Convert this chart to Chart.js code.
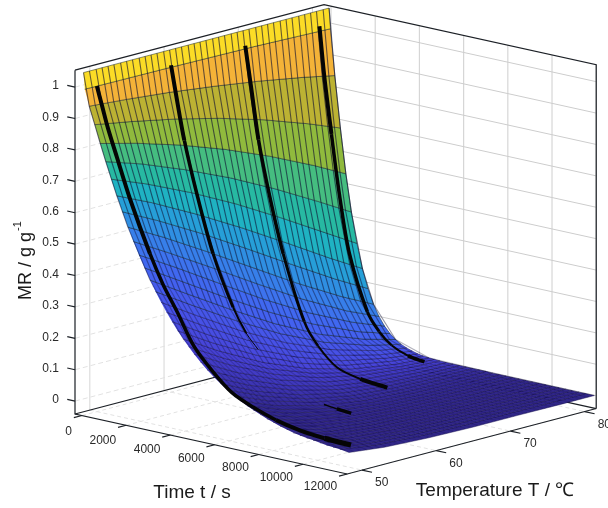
<!DOCTYPE html>
<html>
<head>
<meta charset="utf-8">
<title>MR surface</title>
<script src="https://cdn.jsdelivr.net/npm/chart.js@4"></script>
<style>
html, body { margin: 0; padding: 0; background: #fff; }
canvas { display: block; }
</style>
</head>
<body>
<canvas id="mycanvas" width="608" height="508"></canvas>
<script>
// axis ticks
var timeTicks = [0, 2000, 4000, 6000, 8000, 10000, 12000];
var tempTicks = [50, 60, 70, 80];
var mrTicks = [0, 0.1, 0.2, 0.3, 0.4, 0.5, 0.6, 0.7, 0.8, 0.9, 1];

// surface rows: MR at each time (rows) and temperature (columns)
var surfTemps = [48.2, 53, 59, 65, 71, 77, 81.3];
var rowTimes = [0, 60, 260, 510, 760, 1010, 1260, 1510, 1760, 2010, 2260, 2510, 2760, 3010, 3260, 3510, 3760, 4010, 4260, 4510, 4760, 5010, 5300, 5600, 5900, 6200, 6500, 6800, 7100, 7400, 7700, 8000, 8300, 8600, 8900, 9200, 9500, 9800, 10100, 10400, 10700, 11000, 11300, 11600, 12000];
var surfMR = [
	[1.05, 1.05, 1.05, 1.05, 1.05, 1.05, 1.05],
	[.998, .997, .996, .994, .992, .988, .985],
	[.947, .938, .924, .906, .885, .860, .839],
	[.892, .872, .843, .808, .766, .716, .676],
	[.836, .807, .764, .713, .654, .587, .534],
	[.782, .745, .689, .626, .554, .475, .416],
	[.730, .685, .620, .547, .466, .381, .320],
	[.681, .629, .555, .475, .390, .303, .244],
	[.634, .576, .497, .412, .325, .240, .184],
	[.589, .527, .443, .356, .269, .189, .138],
	[.547, .481, .395, .307, .222, .147, .103],
	[.508, .440, .351, .263, .183, .115, .076],
	[.471, .400, .311, .226, .150, .089, .056],
	[.436, .364, .276, .193, .122, .069, .041],
	[.403, .331, .244, .165, .100, .053, .030],
	[.373, .301, .215, .140, .081, .040, .022],
	[.345, .274, .190, .120, .066, .031, .016],
	[.319, .248, .167, .102, .053, .024, .011],
	[.294, .225, .148, .086, .043, .018, .008],
	[.272, .204, .130, .073, .035, .013, .006],
	[.251, .184, .114, .062, .028, .010, .005],
	[.231, .167, .100, .052, .023, .008, .004],
	[.210, .148, .086, .043, .018, .006, .003],
	[.190, .131, .073, .035, .013, .005, .003],
	[.172, .116, .063, .028, .010, .004, .003],
	[.156, .102, .053, .023, .008, .004, .003],
	[.141, .091, .045, .018, .007, .004, .003],
	[.127, .080, .039, .015, .006, .004, .003],
	[.115, .070, .033, .012, .005, .003, .003],
	[.104, .062, .028, .010, .005, .003, .002],
	[.094, .055, .024, .009, .004, .003, .002],
	[.085, .048, .020, .008, .004, .003, .002],
	[.076, .042, .017, .007, .004, .003, .002],
	[.069, .037, .015, .006, .004, .003, .002],
	[.062, .033, .013, .006, .003, .002, .002],
	[.056, .029, .011, .005, .003, .002, .002],
	[.050, .025, .010, .005, .003, .002, .002],
	[.046, .023, .009, .005, .003, .002, .002],
	[.043, .021, .008, .004, .003, .002, .002],
	[.040, .019, .008, .004, .003, .002, .002],
	[.037, .017, .007, .004, .003, .002, .002],
	[.034, .016, .007, .004, .003, .002, .002],
	[.032, .015, .006, .003, .003, .002, .002],
	[.030, .014, .006, .003, .003, .002, .002],
	[.026, .013, .006, .003, .003, .002, .002]
];
var rowColors = ['#fbdc26', '#f4b338', '#bcb233', '#90ba3d', '#45bd80', '#27b9a2', '#1fb2c2', '#269fd8', '#2f8fe2', '#377fea', '#3d73ee', '#4068f0', '#4361ef', '#455bec', '#4656e9', '#4751e6', '#474de2', '#4749de', '#4745d9', '#4641d3', '#443ecc', '#423bc5', '#3f38bd', '#3d35b5', '#3b32ad', '#3930a6', '#372ea0', '#362c9b', '#352b97', '#342a94', '#332992', '#332990', '#33288f', '#33288e', '#32288d', '#32288c', '#32278b', '#32278b', '#32278a', '#32278a', '#31278a', '#31278a', '#31278a', '#31278a'];

// mesh lines running down the surface
var meshTemps = [48.2, 49, 49.9, 50.7, 51.5, 52.3, 53.2, 54, 54.8, 55.7, 56.5, 57.3, 58.1, 59, 59.8, 60.6, 61.4, 62.3, 63.1, 63.9, 64.7, 65.6, 66.4, 67.2, 68.1, 68.9, 69.7, 70.5, 71.4, 72.2, 73, 73.8, 74.7, 75.5, 76.3, 77.2, 78, 78.8, 79.6, 80.5, 81.3];
var meshTimes = [0, 260, 510, 760, 1010, 1510, 2010, 3010, 4510, 7100, 12000];
var meshMR = [
	[1.05, 1.05, 1.05, 1.05, 1.05, 1.05, 1.05, 1.05, 1.05, 1.05, 1.05, 1.05, 1.05, 1.05, 1.05, 1.05, 1.05, 1.05, 1.05, 1.05, 1.05, 1.05, 1.05, 1.05, 1.05, 1.05, 1.05, 1.05, 1.05, 1.05, 1.05, 1.05, 1.05, 1.05, 1.05, 1.05, 1.05, 1.05, 1.05, 1.05, 1.05],
	[.947, .946, .944, .943, .941, .939, .938, .936, .934, .932, .930, .928, .926, .924, .922, .919, .917, .915, .912, .910, .907, .904, .902, .899, .896, .893, .890, .887, .884, .880, .877, .874, .870, .866, .863, .859, .855, .851, .847, .842, .838],
	[.892, .889, .885, .882, .879, .875, .871, .868, .864, .860, .856, .852, .847, .843, .839, .834, .829, .824, .820, .814, .809, .804, .799, .793, .787, .781, .775, .769, .763, .757, .750, .743, .736, .730, .722, .715, .708, .700, .692, .684, .676],
	[.836, .832, .827, .822, .817, .811, .806, .800, .795, .789, .783, .777, .771, .764, .758, .751, .744, .737, .730, .723, .715, .708, .700, .692, .684, .676, .667, .659, .650, .641, .632, .623, .614, .604, .595, .585, .575, .565, .555, .544, .534],
	[.782, .776, .770, .763, .757, .750, .743, .736, .729, .721, .714, .706, .698, .690, .682, .673, .665, .656, .647, .638, .629, .619, .610, .600, .590, .580, .570, .560, .549, .539, .528, .517, .506, .495, .484, .473, .462, .450, .439, .427, .415],
	[.681, .672, .663, .654, .645, .636, .627, .617, .607, .597, .587, .577, .566, .556, .545, .534, .523, .512, .501, .490, .478, .467, .455, .443, .432, .420, .408, .396, .384, .372, .360, .348, .336, .324, .312, .300, .289, .277, .266, .254, .243],
	[.589, .579, .568, .558, .547, .536, .525, .513, .502, .491, .479, .467, .455, .444, .432, .420, .408, .396, .383, .371, .359, .347, .335, .323, .311, .299, .287, .275, .263, .252, .240, .229, .218, .207, .197, .186, .176, .166, .156, .147, .138],
	[.436, .424, .412, .399, .387, .374, .362, .350, .337, .325, .313, .300, .288, .276, .264, .252, .241, .229, .218, .207, .196, .185, .175, .165, .155, .145, .136, .127, .118, .110, .102, .094, .087, .080, .073, .067, .061, .056, .050, .045, .041],
	[.272, .259, .248, .236, .224, .213, .202, .191, .180, .169, .159, .149, .140, .130, .121, .113, .105, .097, .089, .082, .075, .069, .062, .057, .051, .046, .041, .037, .033, .029, .026, .023, .020, .017, .015, .013, .011, .010, .008, .007, .006],
	[.115, .107, .098, .091, .083, .076, .069, .063, .057, .052, .046, .042, .037, .033, .029, .026, .023, .020, .017, .015, .013, .011, .010, .009, .008, .007, .006, .005, .005, .004, .004, .003, .003, .003, .003, .003, .003, .003, .003, .003, .003],
	[.026, .023, .021, .019, .018, .016, .015, .014, .013, .012, .011, .010, .009, .009, .008, .007, .006, .006, .006, .005, .005, .005, .004, .004, .004, .004, .003, .003, .003, .003, .003, .003, .002, .002, .002, .002, .002, .002, .002, .002, .002]
];
// mesh line strength between the mesh times
var meshShade = [0.62, 0.62, 0.62, 0.62, 0.6, 0.55, 0.45, 0.32, 0.22, 0.16];

// measured curves (black), each temperature has its own time points
var curves = [
	{ temp: 50, times: [0, 250, 500, 905, 1500, 2400, 3000, 3620, 4400, 5250, 6100, 7060, 8100, 9190, 10300, 11500],
		mr: [.996, .933, .87, .784, .66, .50, .41, .335, .235, .168, .115, .083, .058, .042, .034, .031],
		widths: [4, 4, 4, 4, 4, 3.5, 3.5, 3.5, 3.5, 3.5, 3.5, 3.5, 4, 4, 5] },
	{ temp: 60, times: [0, 226, 600, 1200, 1900, 2805, 3400, 3940],
		mr: [1, .91, .77, .60, .43, .273, .20, .156],
		widths: [4, 4, 3.5, 3.5, 3, 2, 1] },
	{ temp: 60, times: [6920, 7500, 8150],
		mr: [.027, .022, .018],
		widths: [1.5, 3.5] },
	{ temp: 70, times: [0, 250, 600, 1100, 1720, 2670, 3300, 4160, 5200, 6430],
		mr: [1, .88, .71, .54, .364, .163, .095, .04, .02, .011],
		widths: [4, 4, 3.5, 3.5, 3, 2.5, 2, 2, 4] },
	{ temp: 80, times: [0, 226, 543, 900, 1360, 2170, 2700, 3260, 4000, 4750],
		mr: [1, .84, .665, .48, .296, .124, .07, .035, .013, .0045],
		widths: [4, 4, 3.5, 3.5, 3.5, 3, 2.5, 2, 3.5] }
];

// view of the box
var tMin = -317, tMax = 12000;
var tempMin = 48, tempMax = 81.56;
var mrMin = -0.041, mrMax = 1.054;

function project(t, temp, mr) {
	return {
		x: 75 + (t - tMin) * 0.0221 + (temp - tempMin) * 7.42,
		y: 414 + (t - tMin) * 0.00487 - (temp - tempMin) * 1.95 - (mr - mrMin) * 314
	};
}

var sets = [];

function addLine(points, color, width, dash, layer) {
	sets.push({
		data: points,
		showLine: true,
		pointRadius: 0,
		borderColor: color,
		borderWidth: width,
		borderDash: dash || [],
		fill: false,
		clip: false,
		order: layer
	});
}

// layer numbers: higher is painted first
var gridColor = '#cdcdcd';
var softColor = '#e2e2e2';
var axisColor = '#1c2026';

// walls and floor
mrTicks.forEach(function (m) {
	addLine([project(tMin, tempMin, m), project(tMin, tempMax, m)], softColor, 1, [5, 3], 50);
	addLine([project(tMin, tempMax, m), project(tMax, tempMax, m)], gridColor, 1, [], 50);
});
tempTicks.forEach(function (c) {
	addLine([project(tMin, c, mrMin), project(tMin, c, mrMax)], '#d6d6d6', 1, [], 50);
	addLine([project(tMin, c, mrMin), project(tMax, c, mrMin)], softColor, 1, [4, 3], 50);
});
timeTicks.forEach(function (t) {
	addLine([project(t, tempMax, mrMin), project(t, tempMax, mrMax)], '#d6d6d6', 1.2, [], 50);
	addLine([project(t, tempMin, mrMin), project(t, tempMax, mrMin)], softColor, 1, [4, 3], 50);
});

// box edges
addLine([project(tMin, tempMin, mrMin), project(tMin, tempMax, mrMin), project(tMax, tempMax, mrMin)], axisColor, 1.2, [], 40);
addLine([project(tMin, tempMin, mrMax), project(tMin, tempMax, mrMax), project(tMax, tempMax, mrMax), project(tMax, tempMax, mrMin)], axisColor, 1.2, [], 40);
addLine([project(tMin, tempMin, mrMax), project(tMin, tempMin, mrMin), project(tMax, tempMin, mrMin), project(tMax, tempMax, mrMin)], axisColor, 1.2, [], 40);

// tick marks
mrTicks.forEach(function (m) {
	addLine([project(tMin, tempMin, m), project(tMin - 350, tempMin, m)], axisColor, 1.2, [], 40);
});
timeTicks.forEach(function (t) {
	addLine([project(t, tempMin, mrMin), project(t, tempMin - 1.1, mrMin)], axisColor, 1.2, [], 40);
});
tempTicks.forEach(function (c) {
	addLine([project(tMax, c, mrMin), project(tMax + 450, c, mrMin)], axisColor, 1.2, [], 40);
});

// surface, one filled strip per time step
for (var r = 0; r < rowTimes.length - 1; r++) {
	var strip = [];
	for (var c = 0; c < surfTemps.length; c++) {
		strip.push(project(rowTimes[r], surfTemps[c], surfMR[r][c]));
	}
	for (var c2 = surfTemps.length - 1; c2 >= 0; c2--) {
		strip.push(project(rowTimes[r + 1], surfTemps[c2], surfMR[r + 1][c2]));
	}
	sets.push({
		data: strip,
		showLine: true,
		pointRadius: 0,
		backgroundColor: rowColors[r],
		borderColor: r < 14 ? 'rgba(10,30,40,0.6)' : 'rgba(15,10,70,0.55)',
		borderWidth: 0.8,
		fill: 'shape',
		clip: false,
		order: 30
	});
}

// mesh lines on the surface
meshTemps.forEach(function (c, j) {
	var pts = meshTimes.map(function (t, i) {
		return project(t, c, meshMR[i][j]);
	});
	sets.push({
		data: pts,
		showLine: true,
		pointRadius: 0,
		borderColor: 'rgba(15,15,50,0.6)',
		borderWidth: 1.1,
		fill: false,
		clip: false,
		order: 20,
		segment: {
			borderColor: function (ctx) { return 'rgba(15,15,50,' + meshShade[ctx.p0DataIndex] + ')'; }
		}
	});
});

// black curves on top
curves.forEach(function (cv) {
	var pts = cv.times.map(function (t, i) {
		return project(t, cv.temp, cv.mr[i]);
	});
	sets.push({
		data: pts,
		showLine: true,
		pointRadius: 0,
		borderColor: '#050505',
		borderWidth: 4,
		tension: 0.3,
		fill: false,
		clip: false,
		order: 10,
		segment: {
			borderWidth: function (ctx) { return cv.widths[ctx.p0DataIndex]; }
		}
	});
});

// tick labels and axis titles
var textPlugin = {
	id: 'axisText',
	afterDatasetsDraw: function (chart) {
		var ctx = chart.ctx;
		ctx.save();
		ctx.fillStyle = '#2a2a2a';
		ctx.textBaseline = 'middle';
		ctx.font = '12px "Liberation Sans", Arial, sans-serif';

		ctx.textAlign = 'right';
		mrTicks.forEach(function (m) {
			var p = project(tMin, tempMin, m);
			ctx.fillText(String(m), p.x - 16, p.y - 1);
		});
		timeTicks.forEach(function (t) {
			var p = project(t, tempMin, mrMin);
			ctx.fillText(String(t), p.x - 10, p.y + 16 - t * 0.0003);
		});
		ctx.textAlign = 'left';
		tempTicks.forEach(function (c) {
			var p = project(tMax, c, mrMin);
			ctx.fillText(String(c), p.x + 13, p.y + 13);
		});

		ctx.textAlign = 'center';
		ctx.fillStyle = '#1a1a1a';
		ctx.font = '19px "Liberation Sans", Arial, sans-serif';
		ctx.fillText('Time t / s', 192, 493);
		ctx.fillText('Temperature T / \u2103', 495, 491);

		// rotated y title with a raised -1
		ctx.translate(26, 259);
		ctx.rotate(-Math.PI / 2);
		ctx.textAlign = 'left';
		ctx.font = '18px "Liberation Sans", Arial, sans-serif';
		ctx.fillText('MR / g g', -41, 0);
		var w = ctx.measureText('MR / g g').width;
		ctx.font = '11px "Liberation Sans", Arial, sans-serif';
		ctx.fillText('-1', -41 + w + 1, -8);
		ctx.restore();
	}
};

var myChart = new Chart(document.getElementById('mycanvas'), {
	type: 'scatter',
	data: { datasets: sets },
	options: {
		responsive: false,
		animation: false,
		events: [],
		layout: { padding: 0 },
		plugins: { legend: { display: false }, tooltip: { enabled: false } },
		scales: {
			x: { type: 'linear', min: 0, max: 608, display: false },
			y: { type: 'linear', min: 0, max: 508, reverse: true, display: false }
		}
	},
	plugins: [textPlugin]
});
</script>
</body>
</html>
